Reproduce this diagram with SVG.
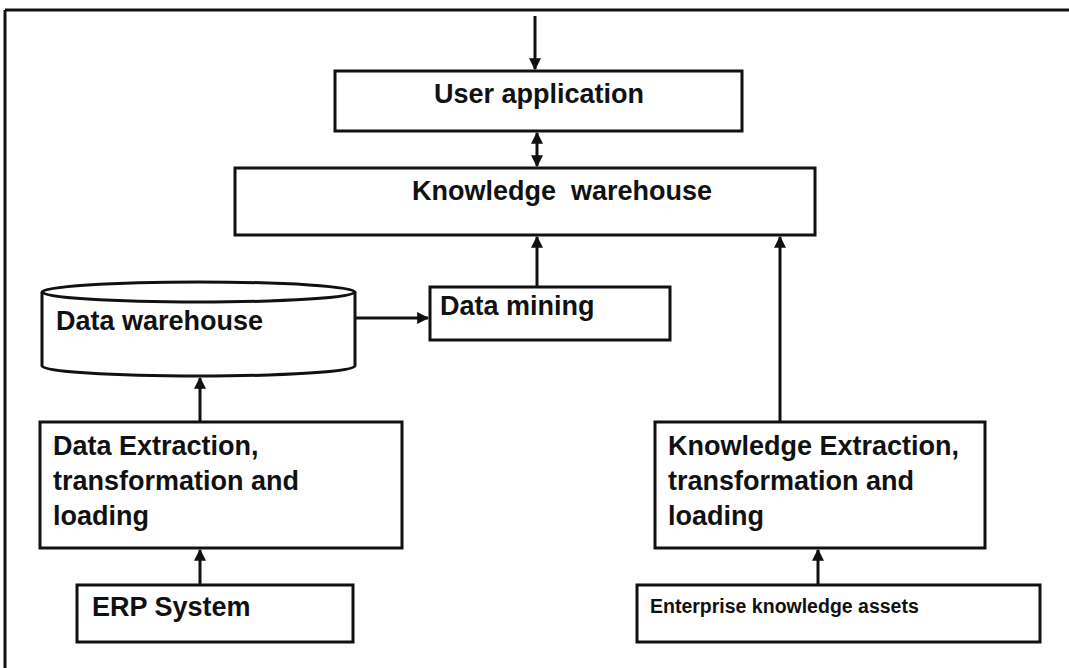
<svg xmlns="http://www.w3.org/2000/svg" width="1069" height="668" viewBox="0 0 1069 668">
<style>
.box{fill:#fff;stroke:#111;stroke-width:3}
.t{font-family:"Liberation Sans",Arial,sans-serif;font-weight:bold;font-size:27px;fill:#111}
.s{font-size:19.5px}
.c{stroke:#111;stroke-width:3;fill:none}
</style>
<defs>
<marker id="ah" viewBox="0 0 10 10" refX="9" refY="5" markerWidth="4" markerHeight="4" orient="auto-start-reverse" markerUnits="strokeWidth">
<path d="M0,0 L10,5 L0,10 z" fill="#111"/>
</marker>
</defs>
<rect width="1069" height="668" fill="#fff"/>
<g id="frame">
<line x1="5" y1="10" x2="1069" y2="10" stroke="#111" stroke-width="3"/>
<line x1="5" y1="10" x2="5" y2="668" stroke="#111" stroke-width="3"/>
</g>
<g id="user-application">
<rect class="box" x="335" y="71" width="407" height="60"/>
<text class="t" x="539" y="103" text-anchor="middle">User application</text>
</g>
<g id="knowledge-warehouse">
<rect class="box" x="235" y="168" width="580" height="67"/>
<text class="t" x="562" y="200" text-anchor="middle" xml:space="preserve">Knowledge  warehouse</text>
</g>
<g id="data-warehouse">
<path class="box" d="M42,292 A156,10 0 0 1 355,292 L355,366 A156,10 0 0 1 42,366 Z"/>
<path class="c" d="M42,292 A156,10 0 0 0 355,292"/>
<text class="t" x="56" y="330">Data warehouse</text>
</g>
<g id="data-mining">
<rect class="box" x="430" y="287" width="240" height="53"/>
<text class="t" x="440" y="315">Data mining</text>
</g>
<g id="data-etl">
<rect class="box" x="40" y="422" width="362" height="126"/>
<text class="t" x="53" y="455">Data Extraction,</text>
<text class="t" x="53" y="490">transformation and</text>
<text class="t" x="53" y="525">loading</text>
</g>
<g id="knowledge-etl">
<rect class="box" x="655" y="422" width="330" height="126"/>
<text class="t" x="668" y="455">Knowledge Extraction,</text>
<text class="t" x="668" y="490">transformation and</text>
<text class="t" x="668" y="525">loading</text>
</g>
<g id="erp-system">
<rect class="box" x="77" y="585" width="276" height="57"/>
<text class="t" x="92" y="616">ERP System</text>
</g>
<g id="enterprise-assets">
<rect class="box" x="637" y="585" width="403" height="57"/>
<text class="t s" x="650" y="613">Enterprise knowledge assets</text>
</g>
<g id="connectors">
<line class="c" x1="535" y1="16" x2="535" y2="69" marker-end="url(#ah)"/>
<line class="c" x1="537" y1="133" x2="537" y2="166" marker-start="url(#ah)" marker-end="url(#ah)"/>
<line class="c" x1="537" y1="287" x2="537" y2="237" marker-end="url(#ah)"/>
<line class="c" x1="355" y1="318" x2="428" y2="318" marker-end="url(#ah)"/>
<line class="c" x1="200" y1="422" x2="200" y2="378" marker-end="url(#ah)"/>
<line class="c" x1="780" y1="422" x2="780" y2="237" marker-end="url(#ah)"/>
<line class="c" x1="200" y1="585" x2="200" y2="550" marker-end="url(#ah)"/>
<line class="c" x1="818" y1="585" x2="818" y2="550" marker-end="url(#ah)"/>
</g>
</svg>
